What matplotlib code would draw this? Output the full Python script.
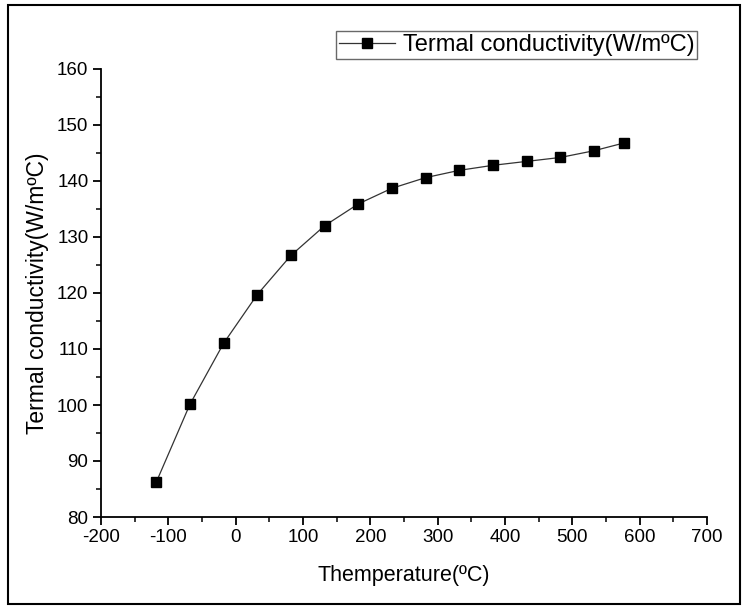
import matplotlib
matplotlib.use('Agg')
import matplotlib.pyplot as plt
from matplotlib.patches import Rectangle
from matplotlib.ticker import MultipleLocator

plt.rcParams['font.family'] = ['Liberation Sans', 'DejaVu Sans']
plt.rcParams['axes.unicode_minus'] = False

# Temperatura (ºC) i przewodność cieplna (W/mºC)
temperature = [-118, -68, -18, 32, 82, 132, 182, 232, 282, 332, 382, 432, 482, 532, 577]
conductivity = [86.2, 100.1, 111.0, 119.7, 126.7, 132.0, 135.9, 138.7, 140.6,
                141.9, 142.8, 143.5, 144.2, 145.4, 146.8]
label = 'Termal conductivity(W/mºC)'

fig = plt.figure(figsize=(7.45, 6.09), dpi=100)
ax = fig.add_axes([101/745, 1 - 517/609, 606/745, 448/609])

ax.plot(temperature, conductivity, color='#333333', linewidth=0.9,
        marker='s', markersize=7.5, markerfacecolor='black', markeredgecolor='black',
        label=label)

ax.set_xlim(-200, 700)
ax.set_ylim(80, 160)
ax.xaxis.set_major_locator(MultipleLocator(100))
ax.xaxis.set_minor_locator(MultipleLocator(50))
ax.yaxis.set_major_locator(MultipleLocator(10))
ax.yaxis.set_minor_locator(MultipleLocator(5))

for s in ['top', 'right']:
    ax.spines[s].set_visible(False)
for s in ['left', 'bottom']:
    ax.spines[s].set_linewidth(1.3)

ax.tick_params(which='major', direction='out', length=6, width=1.3, labelsize=13.5, pad=3)
ax.tick_params(which='minor', direction='out', length=3.5, width=1.1)

ax.set_xlabel('Themperature(ºC)', fontsize=15.5, labelpad=13)
ax.set_ylabel(label, fontsize=16.5, labelpad=6)

leg = ax.legend(loc='lower right', bbox_to_anchor=(596/606, 1 + 10/448), fontsize=17,
                frameon=True, fancybox=False, handlelength=2.4, borderpad=0.12,
                handletextpad=0.3, borderaxespad=0)
leg.get_frame().set_edgecolor('#444444')
leg.get_frame().set_linewidth(1.0)

# ramka wokół całego rysunku
fig.patches.append(Rectangle((8/745, 5/609), 732/745, 599/609, transform=fig.transFigure,
                             fill=False, edgecolor='black', linewidth=1.5))

fig.savefig('out.png', dpi=100)
